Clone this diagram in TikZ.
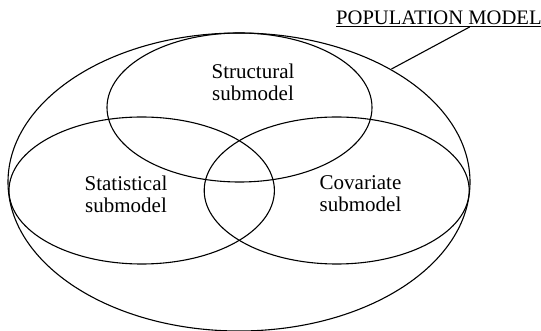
\documentclass[tikz,border=0pt]{standalone}
\usepackage{fontspec}
\setmainfont{Liberation Serif}
\usetikzlibrary{calc}
\tikzset{
	venn/.style={line width=1.1pt},
	sublabel/.style={align=center, inner sep=0pt, font=\fontsize{21}{22}\selectfont}
}

\begin{document}
\begin{tikzpicture}[x=1pt, y=-1pt]
			%%%%% START %%%%%
			
			\useasboundingbox (0, 0) rectangle (541, 331);
			
			% population and the three submodels
			\draw[venn] (239, 182) ellipse [x radius=231pt, y radius=149pt];
			\draw[venn] (239.5, 107.5) ellipse [x radius=132.5pt, y radius=74.5pt];
			\draw[venn] (141.7, 190.5) ellipse [x radius=132.7pt, y radius=73.5pt];
			\draw[venn] (336.7, 190.5) ellipse [x radius=132.5pt, y radius=73.5pt];
			
			\node[sublabel] (struct) at (253, 82) {Structural\\submodel};
			\node[sublabel] (stat) at (126, 194.5) {Statistical\\submodel};
			\node[sublabel] (covar) at (360.5, 194) {Covariate\\submodel};
			
			\node[sublabel, font=\fontsize{20.6}{22}\selectfont, anchor=base west] (pop) at (336, 24.5) {\underline{POPULATION MODEL}};
			\coordinate (touch) at (391.5, 69);
			\draw[venn] ($(pop.south west)!0.65!(pop.south east)$) -- (touch);
			
			%%%%% END %%%%%
		\end{tikzpicture}
\end{document}
